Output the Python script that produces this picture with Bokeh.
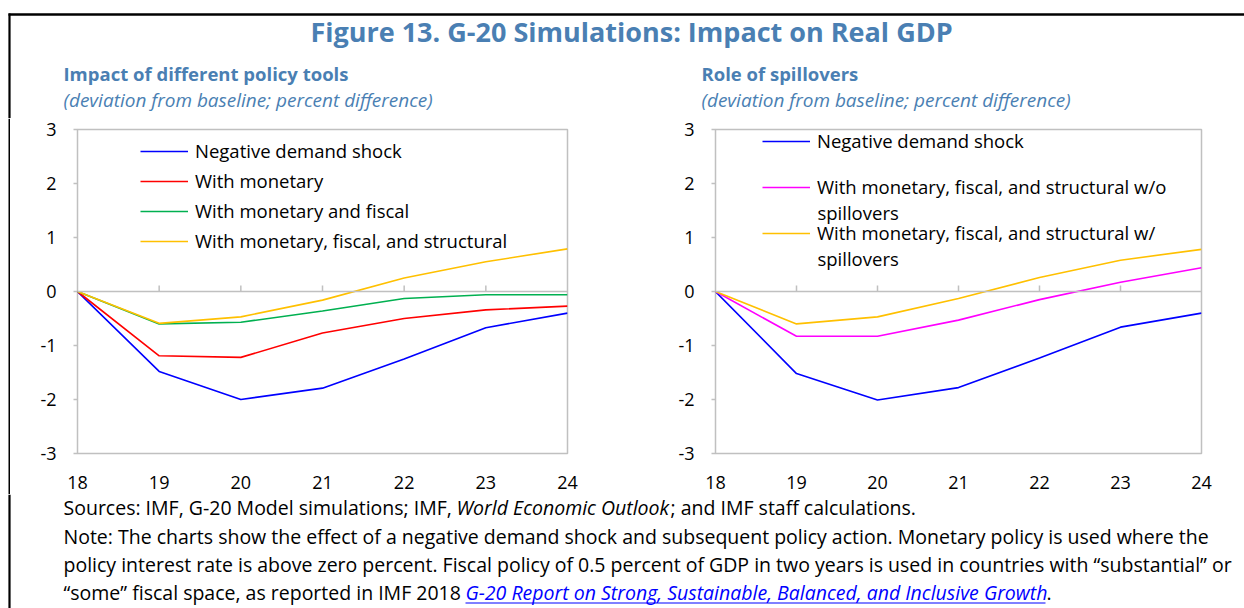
from bokeh.plotting import figure
from bokeh.models import (Range1d, FixedTicker, Span, Label, Legend, LegendItem,
                          BoxAnnotation)
from bokeh.layouts import column, row
from bokeh.embed import file_html
from bokeh.resources import INLINE

# ---------------- data ----------------
years = [18, 19, 20, 21, 22, 23, 24]
x_tick_labels = ["18", "19", "20", "21", "22", "23", "24"]
y_ticks = [-3, -2, -1, 0, 1, 2, 3]
y_tick_labels = ["-3", "-2", "-1", "0", "1", "2", "3"]

left_names = ["Negative demand shock", "With monetary", "With monetary and fiscal",
              "With monetary, fiscal, and structural"]
left_neg = [0, -1.48, -2.00, -1.79, -1.25, -0.67, -0.40]
left_mon = [0, -1.19, -1.22, -0.77, -0.50, -0.34, -0.27]
left_monfis = [0, -0.60, -0.57, -0.36, -0.13, -0.06, -0.06]
left_all = [0, -0.59, -0.47, -0.16, 0.25, 0.55, 0.79]

right_names = ["Negative demand shock",
               "With monetary, fiscal, and structural w/o",
               "With monetary, fiscal, and structural w/"]
right_wrap = ["spillovers", "spillovers"]
right_neg = [0, -1.52, -2.01, -1.78, -1.23, -0.66, -0.40]
right_wo = [0, -0.83, -0.83, -0.53, -0.15, 0.17, 0.44]
right_w = [0, -0.60, -0.47, -0.13, 0.26, 0.58, 0.78]

left_colors = ["#0000ff", "#ff0000", "#00b050", "#ffc000"]
right_colors = ["#0000ff", "#ff00ff", "#ffc000"]

# ---------------- styles ----------------
W = 1244
BLUE = "#4a7fb3"
GRAY = "#c0c0c0"
FONT = "Open Sans"


def pixel_fig(w, h):
    f = figure(width=w, height=h, x_range=Range1d(0, w), y_range=Range1d(h, 0),
               min_border=0, x_axis_location=None, y_axis_location=None,
               toolbar_location=None, output_backend="svg", outline_line_color=None)
    f.grid.grid_line_color = None
    return f


def label(fig, x, y, t, size, style="normal", color="black", align="left"):
    fig.add_layout(Label(x=x, y=y, text=t, text_align=align, text_baseline="middle",
                         text_font=FONT, text_font_size=size, text_font_style=style,
                         text_color=color))


# ---------------- header ----------------
HH = 118
hdr = pixel_fig(W, HH)
hdr.segment(x0=[8], y0=[14], x1=[W], y1=[14], line_color="black", line_width=2.5)
hdr.segment(x0=[9], y0=[13], x1=[9], y1=[HH], line_color="black", line_width=2.2)
label(hdr, 631, 31, "Figure 13. G-20 Simulations: Impact on Real GDP", "27px", "bold",
      BLUE, "center")
for x0, sub in [(63, "Impact of different policy tools"), (701, "Role of spillovers")]:
    label(hdr, x0, 73, sub, "18.5px", "bold", BLUE)
    label(hdr, x0, 99, "(deviation from baseline; percent difference)", "19px", "italic", BLUE)

# ---------------- charts ----------------
CH = 376


def make_chart(width, mbl, mbr, mbt, series, colors, names, loc, spacing):
    p = figure(width=width, height=CH, x_range=Range1d(18, 24), y_range=Range1d(-3, 3),
               min_border_left=mbl, min_border_right=mbr, min_border_top=mbt,
               min_border_bottom=41, toolbar_location=None, output_backend="svg")
    p.grid.grid_line_color = None
    p.outline_line_color = GRAY
    p.outline_line_width = 1.5

    p.xaxis.ticker = FixedTicker(ticks=years)
    p.xaxis.major_label_overrides = dict(zip(years, x_tick_labels))
    p.xaxis.axis_line_color = None
    p.xaxis.major_tick_line_color = None
    p.xaxis.minor_tick_line_color = None
    p.xaxis.major_label_standoff = 16
    p.yaxis.ticker = FixedTicker(ticks=y_ticks)
    p.yaxis.major_label_overrides = dict(zip(y_ticks, y_tick_labels))
    p.yaxis.axis_line_color = None
    p.yaxis.major_tick_line_color = GRAY
    p.yaxis.major_tick_line_width = 1.5
    p.yaxis.major_tick_out = 4
    p.yaxis.major_tick_in = 0
    p.yaxis.minor_tick_line_color = None
    p.yaxis.major_label_standoff = 17
    for ax in (p.xaxis, p.yaxis):
        ax.major_label_text_font = FONT
        ax.major_label_text_font_size = "18px"
        ax.major_label_text_color = "black"

    # zero line with upward ticks
    p.add_layout(Span(location=0, dimension="width", line_color=GRAY, line_width=1.5))
    inner = years[1:-1]
    p.segment(x0=inner, y0=[0] * len(inner), x1=inner, y1=[0.11] * len(inner),
              line_color=GRAY, line_width=1.5)

    items = []
    for ys, c, n in zip(series, colors, names):
        r = p.line(years, ys, line_color=c, line_width=1.6)
        items.append(LegendItem(label=n, renderers=[r]))
    leg = Legend(items=items, location=loc, glyph_width=48, glyph_height=24,
                 label_height=24, label_standoff=7, spacing=spacing, padding=0, margin=0,
                 border_line_color=None, background_fill_alpha=0,
                 label_text_font=FONT, label_text_font_size="18.5px",
                 label_text_color="black")
    p.add_layout(leg)
    return p


left = make_chart(630, 67, 73, 11, [left_neg, left_mon, left_monfis, left_all],
                  left_colors, left_names, (63, 200), 5)
right = make_chart(604, 75, 43, 11, [right_neg, right_wo, right_w],
                   right_colors, right_names, (47, 208), 21)
# continuation lines of the wrapped legend labels
for yv, t in zip([1.463, 0.611], right_wrap):
    right.add_layout(Label(x=19.259, y=yv, text=t, text_align="left", text_baseline="middle",
                           text_font=FONT, text_font_size="18.5px", text_color="black"))

# left frame border strip (8px margin + 2px black line)
strip = figure(width=10, height=CH, x_range=Range1d(0, 10), y_range=Range1d(0, 1),
               min_border=0, x_axis_location=None, y_axis_location=None,
               toolbar_location=None, output_backend="svg", outline_line_color=None)
strip.grid.grid_line_color = None
try:
    strip.frame_align = False
except Exception:
    pass
strip.add_layout(BoxAnnotation(left=8, right=10, fill_color="black", fill_alpha=1,
                               line_color=None))

# ---------------- footer ----------------
FH = 114
ftr = pixel_fig(W, FH)
ftr.segment(x0=[9], y0=[0], x1=[9], y1=[FH], line_color="black", line_width=2.2)
FS = "19.5px"
FI = "19.5px"

label(ftr, 63, 13, "Sources: IMF, G-20 Model simulations; IMF,", FS)
label(ftr, 456, 13, "World Economic Outlook", FI, "italic")
label(ftr, 670, 13, "; and IMF staff calculations.", FS)
label(ftr, 63, 42, "Note: The charts show the effect of a negative demand shock and subsequent "
                   "policy action. Monetary policy is used where the", FS)
label(ftr, 63, 70, "policy interest rate is above zero percent. Fiscal policy of 0.5 percent of "
                   "GDP in two years is used in countries with \u201csubstantial\u201d or", FS)
label(ftr, 63, 98, "\u201csome\u201d fiscal space, as reported in IMF 2018", FS)
label(ftr, 465, 98, "G-20 Report on Strong, Sustainable, Balanced, and Inclusive Growth", FI,
      "italic", "#0000ff")
label(ftr, 1046, 98, ".", FS)
ftr.segment(x0=[465], y0=[108.5], x1=[1045], y1=[108.5], line_color="#0000ff", line_width=1.2)

layout = column(hdr, row(strip, left, right), ftr)
open("out.html", "w").write(file_html(layout, INLINE))
